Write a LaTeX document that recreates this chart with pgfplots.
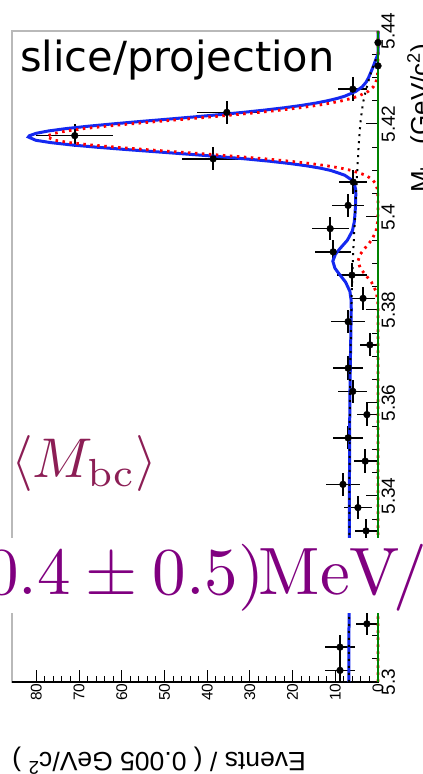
\documentclass[border=0pt]{standalone}
\usepackage[no-math]{fontspec}
\usepackage{graphicx}
\usepackage{pgfplots}
\pgfplotsset{compat=1.18}
\usepackage{pgfplotstable}
\newfontfamily\arialf{Liberation Sans}
\newfontfamily\dejavu{DejaVu Sans}
\definecolor{mbccol}{RGB}{140,30,85}
\definecolor{bigpurple}{RGB}{128,0,128}
\definecolor{rootblue}{RGB}{20,40,240}
\definecolor{rootgreen}{RGB}{0,130,0}

\pgfplotstableread{
m N e
5.3025 8.9 3.6
5.3075 8.9 3.6
5.3125 2.6 2.6
5.3175 4.0 3.0
5.3225 6.0 3.4
5.3275 5.0 3.2
5.3325 2.8 2.6
5.3375 4.7 3.2
5.3425 8.2 3.9
5.3475 3.0 2.7
5.3525 7.0 3.6
5.3575 2.6 2.3
5.3625 5.9 3.4
5.3675 7.0 3.6
5.3725 1.9 2.2
5.3775 7.0 3.9
5.3825 3.5 2.9
5.3875 6.1 3.5
5.3925 10.5 4.2
5.3975 11.2 4.3
5.4025 7.0 3.7
5.4075 5.8 3.3
5.4125 38.6 7.2
5.4175 71.0 9.0
5.4225 35.4 7.0
5.4275 5.9 3.4
5.4325 0.0 0.0
5.4375 0.0 0.0
}\datatab

\pgfplotstableread{
m red bg blue
5.300 0 6.80 6.80
5.310 0 6.80 6.80
5.320 0 6.75 6.75
5.330 0 6.70 6.70
5.340 0 6.70 6.70
5.350 0 6.65 6.65
5.360 0 6.60 6.60
5.370 0 6.45 6.45
5.378 0 6.30 6.30
5.380 0.01 6.25 6.26
5.382 0.09 6.19 6.28
5.384 0.45 6.13 6.58
5.386 1.53 6.06 7.59
5.388 3.32 5.98 9.30
5.389 4.15 5.94 10.09
5.3905 4.70 5.88 10.58
5.392 4.15 5.82 9.97
5.393 3.32 5.78 9.10
5.395 1.53 5.65 7.18
5.397 0.45 5.55 6.00
5.399 0.09 5.45 5.54
5.401 0.01 5.35 5.36
5.403 0.00 5.25 5.25
5.405 0.05 5.15 5.20
5.406 0.17 5.09 5.26
5.407 0.48 5.03 5.51
5.408 1.24 4.97 6.21
5.409 2.91 4.91 7.82
5.410 6.17 4.85 11.02
5.4105 8.66 4.82 13.48
5.411 11.86 4.79 16.65
5.4115 15.87 4.76 20.63
5.412 20.70 4.73 25.43
5.4125 26.35 4.70 31.05
5.413 32.70 4.67 37.37
5.4135 39.70 4.64 44.34
5.414 47.00 4.61 51.61
5.4145 54.30 4.58 58.88
5.415 61.20 4.55 65.75
5.4155 67.30 4.51 71.81
5.416 72.20 4.47 76.67
5.4165 75.70 4.43 80.13
5.4172 77.50 4.37 81.87
5.4175 77.25 4.35 81.60
5.418 75.70 4.31 80.01
5.4185 72.90 4.27 77.17
5.419 68.90 4.23 73.13
5.4195 63.90 4.19 68.09
5.420 58.20 4.15 62.35
5.4205 52.10 4.09 56.19
5.421 45.70 4.02 49.72
5.4215 39.40 3.95 43.35
5.422 33.40 3.88 37.28
5.4225 27.80 3.82 31.62
5.423 22.70 3.75 26.45
5.4235 18.20 3.67 21.87
5.424 14.30 3.58 17.88
5.4245 11.07 3.49 14.56
5.425 8.40 3.40 11.80
5.4255 6.26 3.28 9.54
5.426 4.58 3.15 7.73
5.427 2.32 2.90 5.22
5.428 1.09 2.60 3.69
5.429 0.48 2.30 2.78
5.430 0.20 2.00 2.20
5.431 0.08 1.65 1.73
5.432 0.03 1.25 1.28
5.433 0.01 0.85 0.86
5.434 0 0.45 0.45
5.435 0 0 0
5.440 0 0 0
}\curvetab

\begin{document}
\begin{tikzpicture}
\path[use as bounding box] (0,0) rectangle (423pt,774pt);
\clip (0,0) rectangle (423pt,774pt);
\begin{axis}[
  at={(12pt,92pt)}, anchor=south west,
  scale only axis, width=366pt, height=651pt,
  x dir=reverse, xmin=0, xmax=85.7, ymin=5.30, ymax=5.44,
  xtick={0,10,20,30,40,50,60,70,80},
  xticklabels={0,10,20,30,40,50,60,70,80},
  minor x tick num=4,
  ytick={5.30,5.32,5.34,5.36,5.38,5.40,5.42,5.44},
  yticklabels={5.3,5.32,5.34,5.36,5.38,5.4,5.42,5.44},
  minor y tick num=3,
  xtick pos=left, xticklabel pos=left,
  ytick pos=right, yticklabel pos=right,
  tick align=inside,
  major tick length=12pt, minor tick length=6pt,
  tick style={black, line width=1pt},
  axis line style={gray!55, line width=1.2pt},
  xticklabel shift=-2pt,
  xticklabel style={rotate=90, anchor=east, font=\arialf\fontsize{15.5}{16}\selectfont},
  yticklabel style={rotate=90, anchor=north, font=\arialf\fontsize{19}{20}\selectfont},
  clip=false,
]
\draw[black, line width=1.4pt] (axis cs:85.7,5.30) -- (axis cs:0,5.30) -- (axis cs:0,5.44);
\addplot[only marks, mark=*, mark size=3.4pt, black,
  error bars/.cd, x dir=both, x explicit, y dir=both, y fixed=0.0025,
  error mark=none, error bar style={line width=1.5pt, black}]
  table[x=N, y=m, x error=e] {\datatab};
\addplot[rootblue, line width=3pt] table[x=blue, y=m] {\curvetab};
\addplot[red, line width=2.8pt, dash pattern=on 2.5pt off 4.5pt] table[x=red, y=m] {\curvetab};
\addplot[black, line width=2pt, dash pattern=on 2pt off 5pt] table[x=bg, y=m] {\curvetab};
\addplot[rootgreen, line width=1.8pt] coordinates {(0,5.30) (0,5.44)};
\end{axis}
\node[anchor=base west, inner sep=0] at (20pt,702pt) {\dejavu\fontsize{41.5}{45}\selectfont slice/projection};
\node[anchor=base west, inner sep=0, text=mbccol] at (11pt,296pt) {\scalebox{5.6}{$\langle M_{\mathrm{bc}}\rangle$}};
\fill[white] (0,161pt) rectangle (423pt,236pt);
\node[anchor=base west, inner sep=0, text=bigpurple] at (37pt,179pt) {\scalebox{6.7}{\llap{$(-0.$}$4\pm0.5)\mkern-1.5mu\mathrm{MeV}\mkern-2mu/c^2$}};
\node[rotate=180, anchor=east, inner sep=0] at (12pt,13pt) {\arialf\fontsize{26.5}{28}\selectfont Events / ( 0.005 GeV/c\textsuperscript{2} )};
\node[rotate=90, anchor=base west, inner sep=0] at (429pt,581pt) {\arialf\fontsize{26}{28}\selectfont M\textsubscript{bc} (GeV/c\textsuperscript{2})};
\end{tikzpicture}
\end{document}
